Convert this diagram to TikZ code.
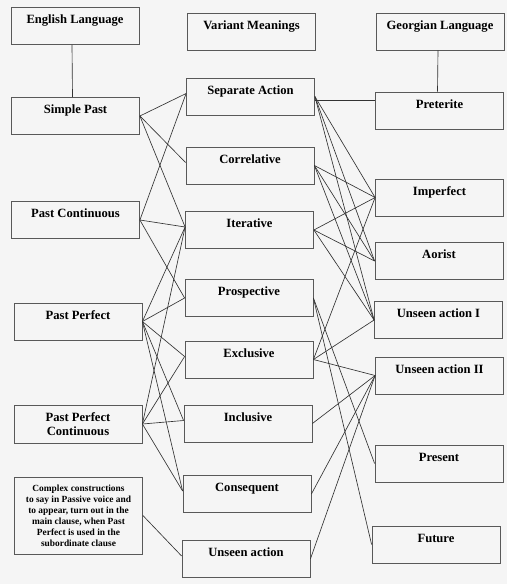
\documentclass[tikz,border=0pt]{standalone}
\usepackage{fontspec}
\setmainfont{Liberation Serif}
\begin{document}
\begin{tikzpicture}[x=1pt,y=-1pt,
  box/.style={draw=black!65,line width=0.8pt,minimum width=128pt,inner xsep=2pt,
    inner ysep=3pt,text height=13pt,text depth=18pt,
    font=\fontsize{12.6}{14}\selectfont\bfseries},
  bigbox/.style={draw=black!65,line width=0.8pt,minimum width=128pt,inner xsep=2pt,align=center},
  link/.style={draw=black!80,line width=0.65pt}]
\fill[black!4] (0,0) rectangle (507,584);
\useasboundingbox (0,0) rectangle (507,584);
\node[box] (eng) at (75,26) {English Language};
\node[box] (var) at (251.5,31.5) {Variant Meanings};
\node[box] (geo) at (440,31.5) {Georgian Language};
\node[box] (sp) at (75.5,116) {Simple Past};
\node[box] (pc) at (75.5,220) {Past Continuous};
\node[box] (pp) at (78,321.5) {Past Perfect};
\node[bigbox,minimum height=38pt,font=\fontsize{12.6}{14}\selectfont\bfseries] (ppc) at (78,424) {Past Perfect\\Continuous};
\node[bigbox,minimum height=77pt,font=\fontsize{9.4}{11}\selectfont\bfseries] (cplx) at (78.5,515.5)
  {Complex constructions\\to say in Passive voice and\\to appear, turn out in the\\main clause, when Past\\Perfect is used in the\\subordinate clause};
\node[box] (sa) at (250.5,96.5) {Separate Action};
\node[box] (corr) at (250,165.5) {Correlative};
\node[box] (iter) at (249.5,230) {Iterative};
\node[box] (prosp) at (249,298) {Prospective};
\node[box] (excl) at (249,359.5) {Exclusive};
\node[box] (incl) at (248,423.5) {Inclusive};
\node[box] (cons) at (247,494) {Consequent};
\node[box] (unseen) at (246,559) {Unseen action};
\node[box] (pret) at (439.5,110.5) {Preterite};
\node[box] (imp) at (439.5,197.5) {Imperfect};
\node[box] (aor) at (439,261) {Aorist};
\node[box] (ui) at (438.5,320) {Unseen action I};
\node[box] (uii) at (439.5,375.5) {Unseen action II};
\node[box] (pres) at (439,463.5) {Present};
\node[box] (fut) at (436,544.5) {Future};
\path[link]
  ([xshift=-3pt]eng.south) edge ([xshift=-3pt]sp.north)
  ([xshift=-2pt]geo.south) edge ([xshift=-2pt]pret.north)
  (sp.east) edge ([yshift=3pt]sa.west)
  (sp.east) edge ([yshift=3pt]corr.west)
  (sp.east) edge ([yshift=3pt]iter.west)
  (pc.east) edge ([yshift=3pt]sa.west)
  (pc.east) edge ([yshift=3pt]iter.west)
  (pc.east) edge (prosp.west)
  (pp.east) edge ([yshift=3pt]iter.west)
  (pp.east) edge (prosp.west)
  (pp.east) edge ([yshift=3pt]excl.west)
  (pp.east) edge ([yshift=3pt]incl.west)
  (pp.east) edge ([yshift=3pt]cons.west)
  (ppc.east) edge ([yshift=3pt]iter.west)
  (ppc.east) edge ([yshift=3pt]excl.west)
  (ppc.east) edge ([yshift=3pt]incl.west)
  (ppc.east) edge ([yshift=3pt]cons.west)
  (cplx.east) edge ([yshift=3pt]unseen.west)
  ([yshift=-4pt]sa.east) edge ([yshift=-4pt]sa.east -| pret.west)
  (sa.east) edge (imp.west)
  (sa.east) edge (aor.west)
  (sa.east) edge (ui.west)
  (corr.east) edge (imp.west)
  (corr.east) edge (aor.west)
  (corr.east) edge (ui.west)
  (iter.east) edge (imp.west)
  (iter.east) edge (aor.west)
  (iter.east) edge (ui.west)
  (prosp.east) edge (pres.west)
  (prosp.east) edge (fut.west)
  (excl.east) edge (imp.west)
  (excl.east) edge (ui.west)
  (excl.east) edge (uii.west)
  (incl.east) edge (uii.west)
  (cons.east) edge (uii.west)
  (unseen.east) edge (uii.west)
;
\end{tikzpicture}
\end{document}
